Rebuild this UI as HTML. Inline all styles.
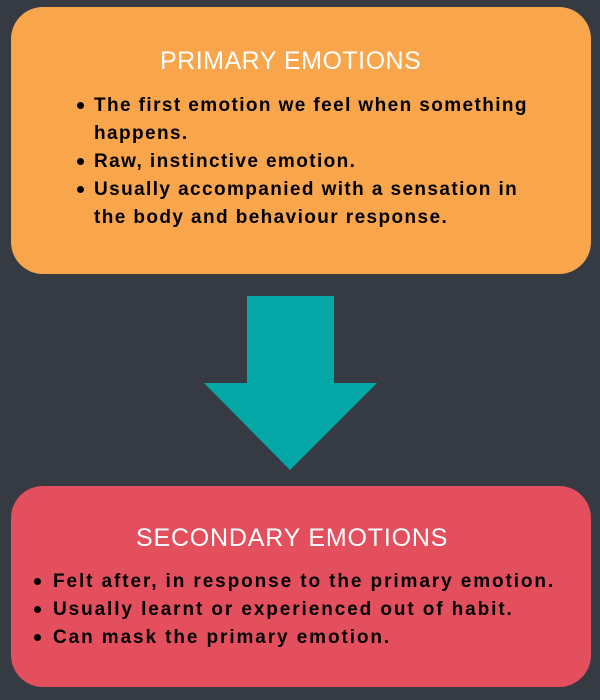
<!DOCTYPE html>
<html><head><style>
body{margin:0;width:600px;height:700px;background:#363a42;position:relative;overflow:hidden;font-family:"Liberation Sans",sans-serif}
.box{position:absolute;left:11px;width:580px;border-radius:32px}
.t{position:absolute;left:0;width:100%;color:#fff;font-size:25px;white-space:nowrap}
.l{position:absolute;color:#000;font-size:19px;font-weight:bold;white-space:nowrap;letter-spacing:1.4px}
.s{letter-spacing:1.9px}
.d{position:absolute;width:7px;height:7px;border-radius:50%;background:#000}
</style></head><body>
<div class="box" style="top:7px;height:267px;background:#f8a54b"></div>
<div class="box" style="top:486px;height:201px;background:#e44f5e"></div>
<svg style="position:absolute;left:0;top:0" width="600" height="700"><polygon points="247,296 334,296 334,383 377,383 290,470 204,383 247,383" fill="#03a8a6"/></svg>
<div class="t" style="top:47px;left:160px;width:auto;letter-spacing:0.5px">PRIMARY EMOTIONS</div>
<div class="d" style="left:77px;top:102px"></div>
<div class="l" style="left:94px;top:95px">The first emotion we feel when something</div>
<div class="l" style="left:94px;top:123px">happens.</div>
<div class="d" style="left:77px;top:158px"></div>
<div class="l" style="left:94px;top:151px">Raw, instinctive emotion.</div>
<div class="d" style="left:77px;top:186px"></div>
<div class="l" style="left:94px;top:179px">Usually accompanied with a sensation in</div>
<div class="l" style="left:94px;top:207px">the body and behaviour response.</div>
<div class="t" style="top:524px;left:136px;width:auto;letter-spacing:0.8px">SECONDARY EMOTIONS</div>
<div class="d" style="left:34px;top:578px"></div>
<div class="l s" style="left:53px;top:571px">Felt after, in response to the primary emotion.</div>
<div class="d" style="left:34px;top:606px"></div>
<div class="l s" style="left:53px;top:599px">Usually learnt or experienced out of habit.</div>
<div class="d" style="left:34px;top:634px"></div>
<div class="l s" style="left:53px;top:627px">Can mask the primary emotion.</div>
</body></html>
